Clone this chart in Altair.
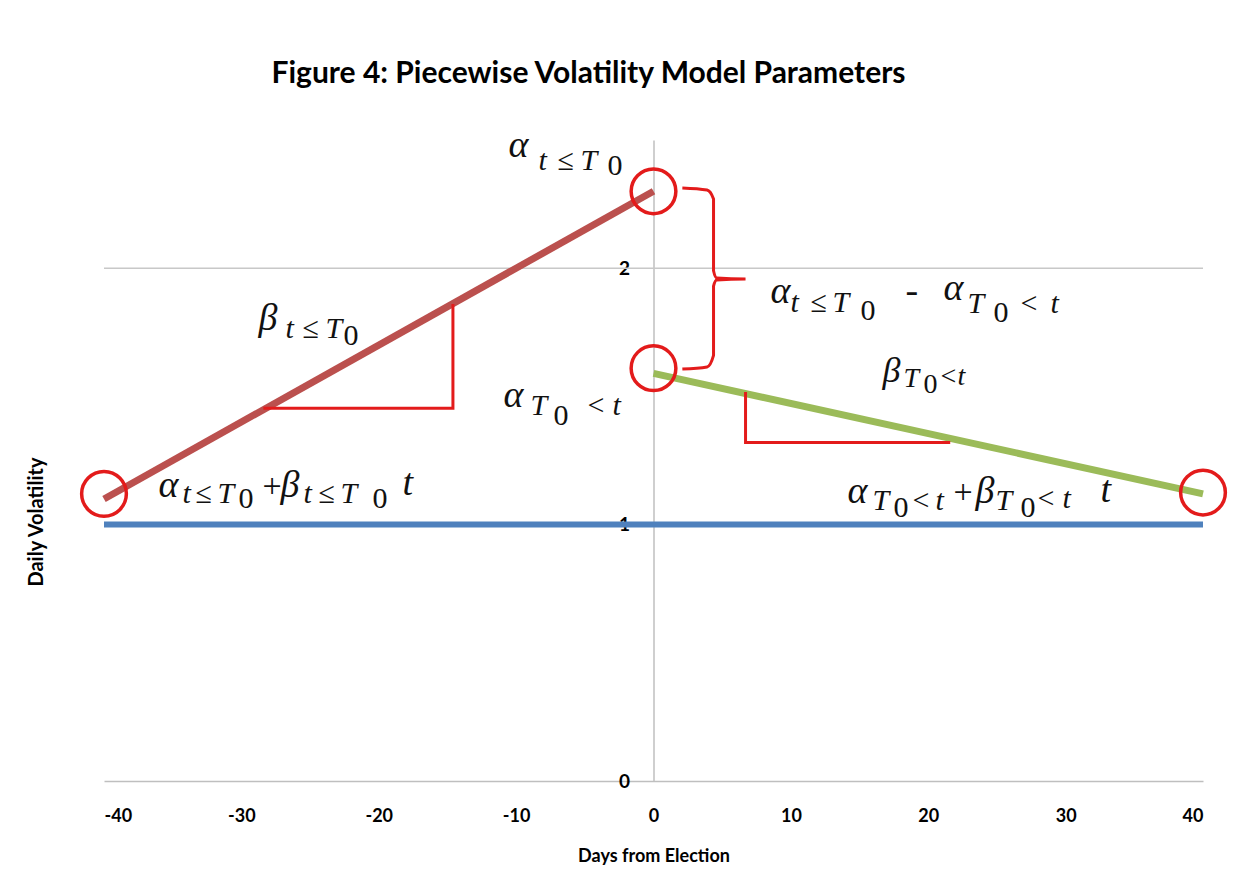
import altair as alt
import pandas as pd

# ---- data ----
days_red = [-40, 0]
vol_red = [1.10, 2.30]
days_green = [0, 40]
vol_green = [1.59, 1.12]
days_blue = [-40, 40]
vol_blue = [1.0, 1.0]
circle_days = [-40, 0, 0, 40]
circle_vol = [1.12, 2.30, 1.61, 1.125]
tri1_days = [-28.4, -14.6, -14.6]
tri1_vol = [1.454, 1.454, 1.86]
tri2_days = [6.7, 6.7, 21.6]
tri2_vol = [1.517, 1.32, 1.32]
brace_days = [2.1, 3.9, 4.37, 4.37, 4.6, 6.7, 4.6, 4.37, 4.37, 3.9, 2.1]
brace_vol = [2.313, 2.305, 2.27, 1.99, 1.962, 1.958, 1.954, 1.93, 1.66, 1.615, 1.607]
grid_vol = [1, 2]
x_ticks = [-40, -30, -20, -10, 0, 10, 20, 30, 40]
y_ticks = [0, 1, 2]

# annotation pieces: italic letters (text, day, volatility, font size)
ital_text = ["α", "t", "T",
             "α", "t", "T", "α", "T", "t",
             "β", "t", "T",
             "α", "T", "t",
             "β", "T", "t",
             "α", "t", "T", "β", "t", "T", "t",
             "α", "T", "t", "β", "T", "t", "t"]
ital_x = [-10.56, -8.37, -5.31,
          8.52, 9.97, 13.03, 21.11, 22.86, 28.90,
          -28.75, -26.79, -23.88,
          -10.92, -8.95, -2.98,
          16.67, 18.20, 22.13,
          -36.03, -34.29, -31.74, -27.15, -25.48, -22.78, -18.27,
          14.12, 15.94, 20.53, 23.44, 24.90, 29.77, 32.54]
ital_y = [2.433, 2.382, 2.382,
          1.864, 1.829, 1.829, 1.875, 1.825, 1.825,
          1.758, 1.727, 1.727,
          1.458, 1.427, 1.427,
          1.556, 1.536, 1.544,
          1.107, 1.084, 1.084, 1.107, 1.084, 1.084, 1.115,
          1.084, 1.057, 1.057, 1.084, 1.057, 1.064, 1.088]
ital_size = [38, 30, 30,
             38, 30, 30, 38, 30, 30,
             38, 30, 30,
             38, 30, 30,
             36, 28, 28,
             38, 30, 30, 38, 30, 30, 38,
             38, 30, 30, 38, 30, 30, 38]

# annotation pieces: upright symbols and digits
up_text = ["≤", "0",
           "≤", "0", "-", "0", "<",
           "≤", "0",
           "0", "<",
           "0", "<",
           "≤", "0", "+", "≤", "0",
           "0", "<", "+", "0", "<"]
up_x = [-6.99, -3.35,
        11.43, 15.07, 18.34, 24.75, 26.72,
        -25.55, -22.57,
        -7.28, -4.80,
        19.65, 20.89,
        -33.34, -30.21, -28.46, -24.39, -20.45,
        17.47, 18.85, 21.84, 26.72, 27.95]
up_y = [2.382, 2.363,
        1.829, 1.797, 1.864, 1.790, 1.825,
        1.727, 1.700,
        1.388, 1.427,
        1.513, 1.544,
        1.084, 1.064, 1.107, 1.084, 1.064,
        1.029, 1.057, 1.084, 1.029, 1.064]
up_size = [30, 30,
           30, 30, 38, 30, 30,
           30, 30,
           30, 30,
           28, 28,
           30, 30, 34, 30, 30,
           30, 30, 34, 30, 30]

RED = "#e31b1b"
GRAY = "#bfbfbf"
FONT = "Lato"
MATH = "Liberation Serif"


def xenc():
    return alt.X(
        "d:Q",
        scale=alt.Scale(domain=[-40, 40], nice=False, zero=False),
        axis=alt.Axis(
            values=x_ticks, ticks=False, grid=False, domainColor=GRAY, domainWidth=1.5,
            labelFont=FONT, labelFontWeight="bold", labelFontSize=18, labelColor="black",
            labelPadding=26,
            labelExpr="datum.value < 0 ? '-' + abs(datum.value) : '' + datum.value",
            title="Days from Election", titleFont=FONT, titleFontWeight="bold",
            titleFontSize=18, titleColor="black", titlePadding=22,
        ),
    )


def yenc():
    return alt.Y(
        "v:Q",
        scale=alt.Scale(domain=[0, 2.5], nice=False),
        axis=alt.Axis(
            values=y_ticks, grid=False, offset=-549.5, domainColor=GRAY, domainWidth=1.5,
            tickColor=GRAY, tickSize=7, labelFont=FONT, labelFontWeight="bold",
            labelFontSize=19, labelColor="black", labelPadding=17, title=None,
        ),
    )


def df(xs, ys):
    return pd.DataFrame({"d": xs, "v": ys, "o": list(range(len(xs)))})


grid = alt.Chart(pd.DataFrame({"v": grid_vol})).mark_rule(color="#c8c8c8", strokeWidth=1.5).encode(y=yenc())

blue = alt.Chart(df(days_blue, vol_blue)).mark_line(color="#4f81bd", strokeWidth=6).encode(x=xenc(), y=yenc())
red = alt.Chart(df(days_red, vol_red)).mark_line(color="#bb504e", strokeWidth=7).encode(x=xenc(), y=yenc())
green = alt.Chart(df(days_green, vol_green)).mark_line(color="#9bbb59", strokeWidth=7).encode(x=xenc(), y=yenc())

tri1 = alt.Chart(df(tri1_days, tri1_vol)).mark_line(color=RED, strokeWidth=3).encode(
    x=xenc(), y=yenc(), order="o:Q")
tri2 = alt.Chart(df(tri2_days, tri2_vol)).mark_line(color=RED, strokeWidth=3).encode(
    x=xenc(), y=yenc(), order="o:Q")
brace = alt.Chart(df(brace_days, brace_vol)).mark_line(color=RED, strokeWidth=3, interpolate="monotone").encode(
    x=xenc(), y=yenc(), order="o:Q")

circles = alt.Chart(df(circle_days, circle_vol)).mark_point(
    shape="circle", size=2000, filled=False, color=RED, strokeWidth=3.5, opacity=1
).encode(x=xenc(), y=yenc())

ital = alt.Chart(pd.DataFrame({"t": ital_text, "d": ital_x, "v": ital_y, "s": ital_size})).mark_text(
    font=MATH, fontStyle="italic", align="left", baseline="alphabetic", color="#111111"
).encode(x=xenc(), y=yenc(), text="t:N", size=alt.Size("s:Q", scale=None, legend=None))

up = alt.Chart(pd.DataFrame({"t": up_text, "d": up_x, "v": up_y, "s": up_size})).mark_text(
    font=MATH, align="left", baseline="alphabetic", color="#111111"
).encode(x=xenc(), y=yenc(), text="t:N", size=alt.Size("s:Q", scale=None, legend=None))

ytitle = alt.Chart(pd.DataFrame({"t": ["Daily Volatility"]})).mark_text(
    angle=270, font=FONT, fontWeight="bold", fontSize=20, color="black"
).encode(text="t:N", x=alt.value(-67), y=alt.value(382))

chart = alt.layer(
    grid, blue, red, green, tri1, tri2, brace, circles, ital, up, ytitle
).properties(
    width=1099,
    height=641,
    background="white",
    autosize=alt.AutoSizeParams(type="none"),
    padding={"left": 96, "top": 132, "right": 40, "bottom": 94},
    title=alt.TitleParams(
        "Figure 4: Piecewise Volatility Model Parameters",
        font=FONT, fontSize=30, fontWeight="bold", color="black",
        anchor="middle", frame="group", dx=-65, offset=38,
    ),
).configure_view(strokeWidth=0, stroke="transparent")

chart.save("out.html", embed_options={"renderer": "svg", "actions": False})
